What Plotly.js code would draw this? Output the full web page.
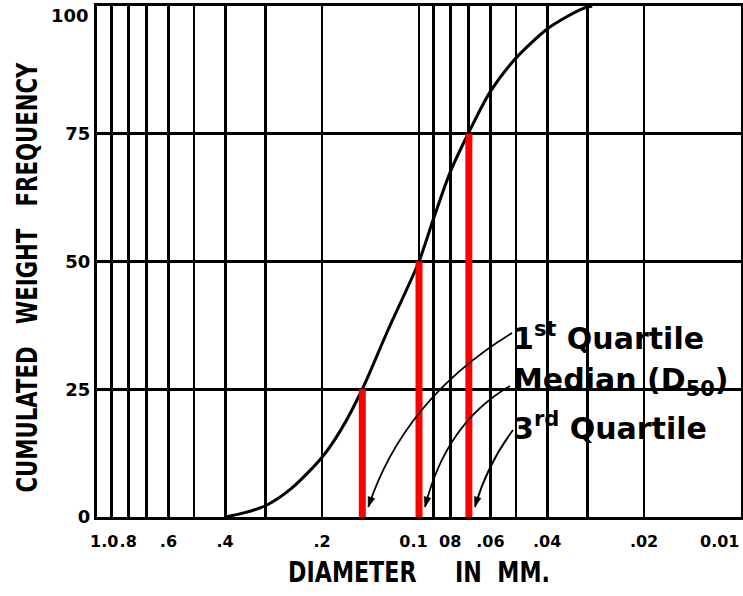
<!DOCTYPE html>
<html>
<head>
<meta charset="utf-8">
<script src="https://cdn.plot.ly/plotly-3.0.1.min.js"></script>
<style>html,body{margin:0;padding:0;background:#fff;}</style>
</head>
<body>
<div id="chart" style="width:743px;height:596px;"></div>
<script>
// ---- data ----
var diameters = [0.40, 0.35, 0.30, 0.25, 0.20, 0.175, 0.15, 0.125, 0.10, 0.09, 0.08, 0.07, 0.06, 0.05, 0.04, 0.035, 0.031, 0.029];
var cumulated = [0, 0.8, 2.2, 5.5, 11.7, 17, 25, 36.5, 50, 58.5, 67.5, 75.3, 83.3, 89.8, 95.5, 97.8, 99.5, 100];
var quartileDiam = [0.15, 0.10, 0.07];
var quartilePct = [25, 50, 75];
var quartileLabels = ['1<sup>st</sup> Quartile', 'Median (D<sub>50</sub>)', '3<sup>rd</sup> Quartile'];
var gridDiam = [1.0, 0.9, 0.8, 0.7, 0.6, 0.5, 0.4, 0.3, 0.2, 0.1, 0.09, 0.08, 0.07, 0.06, 0.05, 0.04, 0.03, 0.02, 0.01];
var gridLabel = ['', '', '.8', '', '.6', '', '.4', '', '.2', '0.1\u00a0\u00a0', '', '08', '', '.06', '', '.04', '', '.02', ''];
var yTicks = [0, 25, 50, 75, 100];
var yTickText = ['0', '25', '50', '75', ''];
var xTitle = 'DIAMETER\u00a0\u00a0\u00a0\u00a0\u00a0IN\u00a0\u00a0MM.';
var yTitle = 'CUMULATED\u00a0\u00a0\u00a0WEIGHT\u00a0\u00a0\u00a0FREQUENCY';

// ---- layout constants ----
var W = 743, H = 596;
var M = {l: 97, r: 2, t: 6, b: 79};
var PW = W - M.l - M.r, PH = H - M.t - M.b;
var xRange = [0, -2];  // log10 range, reversed (1.0 mm at left, 0.01 mm at right)
var titleFont = {family: 'DejaVu Sans, sans-serif', size: 29, color: '#000', weight: 'bold'};
var yTickFont = {family: 'DejaVu Sans, sans-serif', size: 18, color: '#000', weight: 'bold'};
var xTickFont = {family: 'DejaVu Sans, sans-serif', size: 16, color: '#000', weight: 'bold'};
var labelFont = {family: 'DejaVu Sans, sans-serif', size: 30, color: '#000', weight: 'bold'};

function xPix(d) { return M.l + PW * (Math.log10(d) - xRange[0]) / (xRange[1] - xRange[0]); }
function yPix(p) { return M.t + PH * (1 - p / 100); }
function toPaper(pt) { return [(pt[0] - M.l) / PW, (M.t + PH - pt[1]) / PH]; }

var traces = [{
  x: diameters, y: cumulated, type: 'scatter', mode: 'lines',
  line: {color: '#000', width: 3, shape: 'spline', smoothing: 0.8},
  hoverinfo: 'skip', showlegend: false
}];
quartileDiam.forEach(function (d, i) {
  traces.push({
    x: [d, d], y: [0, quartilePct[i]], type: 'scatter', mode: 'lines',
    line: {color: '#ff0000', width: 7}, hoverinfo: 'skip', showlegend: false, cliponaxis: false
  });
});

// ---- curved arrows from labels to the quartile lines ----
var arrowStart = [[512, 333], [510, 386], [513, 430]];
var arrowCtrl = [[404, 399], [446, 423], [487, 465]];
var shapes = [{
  type: 'rect', xref: 'paper', yref: 'paper', layer: 'between',
  x0: toPaper([510, 0])[0], x1: toPaper([738, 0])[0],
  y0: toPaper([0, 447])[1], y1: toPaper([0, 305])[1],
  fillcolor: '#fff', line: {width: 0}
}];
quartileDiam.forEach(function (d, i) {
  var tip = [xPix(d) + 6, yPix(0) - 10];
  var s = toPaper(arrowStart[i]), c = toPaper(arrowCtrl[i]), e = toPaper(tip);
  shapes.push({
    type: 'path', xref: 'paper', yref: 'paper', layer: 'above',
    path: 'M' + s[0] + ',' + s[1] + ' Q' + c[0] + ',' + c[1] + ' ' + e[0] + ',' + e[1],
    line: {color: '#000', width: 1.8}
  });
  var ux = tip[0] - arrowCtrl[i][0], uy = tip[1] - arrowCtrl[i][1];
  var L = Math.sqrt(ux * ux + uy * uy); ux /= L; uy /= L;
  var bx = tip[0] - 10 * ux, by = tip[1] - 10 * uy;
  var nx = -uy, ny = ux;
  var p1 = toPaper(tip), p2 = toPaper([bx + 3.5 * nx, by + 3.5 * ny]), p3 = toPaper([bx - 3.5 * nx, by - 3.5 * ny]);
  shapes.push({
    type: 'path', xref: 'paper', yref: 'paper', layer: 'above',
    path: 'M' + p1[0] + ',' + p1[1] + ' L' + p2[0] + ',' + p2[1] + ' L' + p3[0] + ',' + p3[1] + ' Z',
    fillcolor: '#000', line: {color: '#000', width: 0.5}
  });
});

var labelY = [336, 381, 426];
var annotations = quartileLabels.map(function (t, i) {
  return {
    text: t, xref: 'paper', yref: 'paper', x: toPaper([511, 0])[0], y: toPaper([0, labelY[i]])[1],
    xanchor: 'left', yanchor: 'middle', showarrow: false, font: labelFont, align: 'left'
  };
});
var xLabY = toPaper([0, 541])[1];
annotations.push({text: '1.0', xref: 'paper', yref: 'paper', x: toPaper([88, 0])[0], y: xLabY, xanchor: 'left', yanchor: 'middle', showarrow: false, font: xTickFont});
annotations.push({text: '0.01', xref: 'paper', yref: 'paper', x: 1.0, y: xLabY, xanchor: 'right', yanchor: 'middle', showarrow: false, font: xTickFont});
annotations.push({text: '100', xref: 'paper', yref: 'paper', x: toPaper([91, 0])[0], y: toPaper([0, 15])[1], xanchor: 'right', yanchor: 'middle', showarrow: false, font: yTickFont});

var layout = {
  width: W, height: H, margin: M,
  paper_bgcolor: '#fff', plot_bgcolor: '#fff', showlegend: false,
  xaxis: {
    type: 'log', range: xRange, autorange: false,
    tickmode: 'array', tickvals: gridDiam, ticktext: gridLabel, tickangle: 0,
    showgrid: true, gridcolor: '#000', gridwidth: 2.8,
    showline: true, mirror: true, linecolor: '#000', linewidth: 3,
    ticks: 'outside', ticklen: 8, tickcolor: 'rgba(0,0,0,0)', tickfont: xTickFont,
    zeroline: false,
    title: {text: xTitle, font: titleFont, standoff: 12}
  },
  yaxis: {
    range: [0, 100], autorange: false,
    tickmode: 'array', tickvals: yTicks, ticktext: yTickText,
    showgrid: true, gridcolor: '#000', gridwidth: 2.8,
    showline: true, mirror: true, linecolor: '#000', linewidth: 3,
    ticks: '', tickfont: yTickFont, zeroline: false,
    title: {text: yTitle, font: titleFont, standoff: 20}
  },
  shapes: shapes,
  annotations: annotations
};

// condensed lettering of the original axis titles
var xTitleLen = 262, yTitleLen = 431, yTitleShift = 16;
Plotly.newPlot('chart', traces, layout, {staticPlot: true, displayModeBar: false}).then(function (gd) {
  var xt = gd.querySelector('.g-xtitle text');
  if (xt) {
    var cx = parseFloat(xt.getAttribute('x'));
    var sx = xTitleLen / xt.getBBox().width;
    var tr0 = xt.getAttribute('transform') || '';
    xt.setAttribute('transform', tr0 + ' translate(' + cx + ',0) scale(' + sx + ',1) translate(' + (-cx) + ',0)');
  }
  var yt = gd.querySelector('.g-ytitle text');
  if (yt) {
    var x = parseFloat(yt.getAttribute('x')), y = parseFloat(yt.getAttribute('y'));
    var sy = yTitleLen / yt.getBBox().width;
    var tr1 = yt.getAttribute('transform') || '';
    yt.setAttribute('transform', 'translate(0,' + yTitleShift + ') ' + tr1 + ' translate(' + x + ',' + y + ') scale(' + sy + ',1) translate(' + (-x) + ',' + (-y) + ')');
  }
});
</script>
</body>
</html>
